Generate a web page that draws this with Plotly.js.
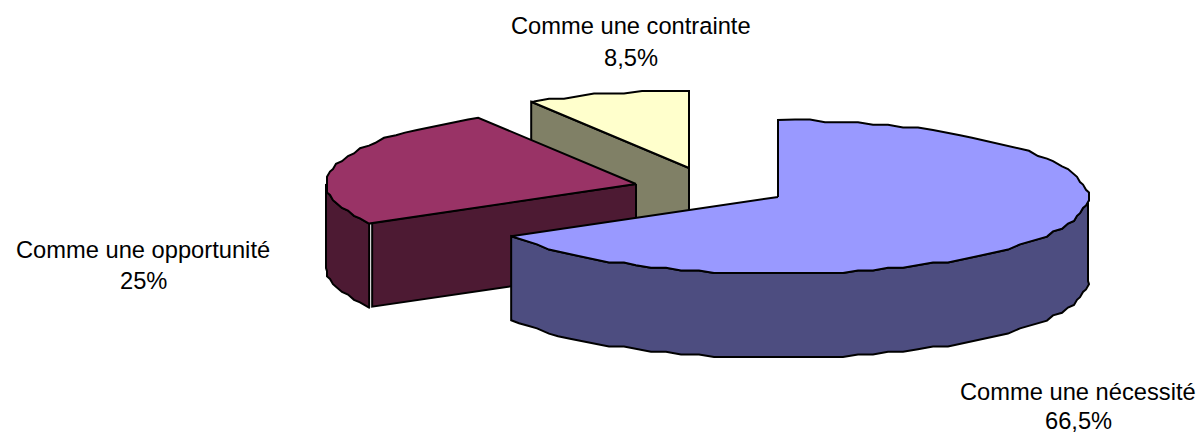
<!DOCTYPE html>
<html>
<head>
<meta charset="utf-8">
<script src="https://cdn.plot.ly/plotly-3.0.1.min.js"></script>
<style>html,body{margin:0;padding:0;background:#fff}#chart{width:1200px;height:434px}</style>
</head>
<body>
<div id="chart"></div>
<script>
// Data
const categories = ["Comme une nécessité", "Comme une opportunité", "Comme une contrainte"];
const shares = [66.5, 25, 8.5];

// Styles and projection settings
const topColors = ["#9999FF", "#993366", "#FFFFCC"];
const wallColors = ["#4D4D80", "#4D1A33", "#808066"];
const apexX = [778, 636, 689];
const apexY = [197, 184, 168];
const labelX = [1078, 143, 631];
const labelY = [[392, 421], [250, 281], [26, 58]];
const rx = 310, ry = 77, depth = 84, snapY = 2.6, snapX = 3, stepDeg = 3;

const rad = d => d * Math.PI / 180;
function rim(i, deg) {
  return [apexX[i] + rx * Math.sin(rad(deg)), apexY[i] - ry * Math.cos(rad(deg))];
}
// Rim points sit on a fixed angular grid and a coarse pixel grid, as in the source's stepped outline
function arc(i, from, to) {
  const pts = [rim(i, from)];
  for (let d = Math.ceil(from / stepDeg + 0.01) * stepDeg; d < to - 0.01; d += stepDeg) {
    const p = rim(i, d);
    pts.push([Math.round(p[0] / snapX) * snapX, Math.round(p[1] / snapY) * snapY]);
  }
  pts.push(rim(i, to));
  return pts;
}
function poly(pts, fill) {
  const c = pts.concat([pts[0]]);
  return {
    type: "scatter", mode: "lines", fill: "toself", fillcolor: fill,
    x: c.map(p => p[0]), y: c.map(p => p[1]),
    line: {color: "#000", width: 2, shape: "linear"},
    hoverinfo: "skip", showlegend: false
  };
}

// Cumulative angles, clockwise from 12 o'clock
const total = shares.reduce((a, b) => a + b, 0);
const starts = [], ends = [];
shares.reduce((acc, v, i) => {
  starts[i] = acc / total * 360;
  ends[i] = (acc + v) / total * 360;
  return acc + v;
}, 0);

const traces = [];
const down = p => [p[0], p[1] + depth];

// Back slice: contrainte
{
  const i = 2, s = rim(i, starts[i]), apex = [apexX[i], apexY[i]];
  traces.push(poly([apex, s, down(s), down(apex)], wallColors[i]));
  traces.push(poly([apex].concat(arc(i, starts[i], ends[i])), topColors[i]));
}
// Middle slice: opportunité
{
  const i = 1, s = rim(i, starts[i]), apex = [apexX[i], apexY[i]];
  const outer = arc(i, starts[i], 270);
  traces.push(poly(outer.concat(outer.map(down).reverse()), wallColors[i]));
  const sr = [s[0] + 3, s[1] - 0.5];
  traces.push(poly([apex, sr, down(sr), down(apex)], wallColors[i]));
  traces.push(poly([apex].concat(arc(i, starts[i], ends[i])), topColors[i]));
}
// Front slice: nécessité
{
  const i = 0, apex = [apexX[i], apexY[i]];
  const outer = arc(i, 90, ends[i]);
  traces.push(poly(outer.concat(outer.map(down).reverse()), wallColors[i]));
  traces.push(poly([apex].concat(arc(i, starts[i], ends[i])), topColors[i]));
}

const annotations = [];
categories.forEach((name, i) => {
  const pct = String(shares[i]).replace(".", ",") + "%";
  [name, pct].forEach((t, j) => annotations.push({
    text: t, x: labelX[i], y: labelY[i][j], xref: "x", yref: "y",
    showarrow: false, xanchor: "center", yanchor: "middle",
    font: {family: "Liberation Sans, Arial, sans-serif", size: 23.7, color: "#000"}
  }));
});

Plotly.newPlot("chart", traces, {
  width: 1200, height: 434,
  margin: {l: 0, r: 0, t: 0, b: 0},
  paper_bgcolor: "#fff", plot_bgcolor: "#fff",
  showlegend: false,
  xaxis: {range: [0, 1200], visible: false, fixedrange: true},
  yaxis: {range: [434, 0], visible: false, fixedrange: true},
  annotations: annotations
}, {displayModeBar: false, staticPlot: true});
</script>
</body>
</html>
